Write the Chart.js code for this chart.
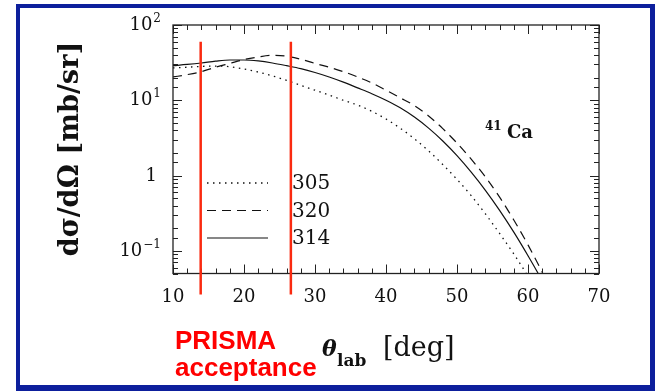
<!DOCTYPE html>
<html>
<head>
<meta charset="utf-8">
<script src="https://cdn.jsdelivr.net/npm/chart.js@4.4.1/dist/chart.umd.min.js"></script>
<style>
  html, body { margin: 0; padding: 0; background: #fff; }
  #wrap { width: 656px; height: 391px; position: relative; }
</style>
</head>
<body>
<div id="wrap"><canvas id="c" width="656" height="391"></canvas></div>
<script>
// Angular distributions d(sigma)/d(Omega) for 41Ca at three beam energies
const theta    = [10, 12, 14, 16, 18, 20, 22, 24, 26, 28, 30, 32, 34, 36, 38, 40, 42, 44, 46, 48, 50, 52, 54, 56, 58, 60, 62, 64];
const sigma305 = [26.9, 27.5, 28.2, 28.5, 27.9, 26, 23.7, 21.1, 18.4, 15.8, 13.6, 11.7, 10, 8.64, 7.14, 5.64, 4.26, 3.08, 2.13, 1.4, 0.89, 0.54, 0.31, 0.17, 0.091, 0.046, 0.022, 0.01];
const sigma320 = [20.4, 21.9, 24, 27.5, 30.9, 34.7, 37.6, 39.5, 38.5, 35.1, 30.9, 27.5, 24, 20.4, 17, 13.6, 10.8, 8.5, 6.2, 4.2, 2.7, 1.65, 0.96, 0.516, 0.257, 0.12, 0.052, 0.021];
const sigma314 = [28.8, 29.9, 31.3, 33.1, 34.3, 34.3, 33.3, 31.3, 28.8, 26.3, 23.4, 20.4, 17.4, 14.6, 12.2, 10, 7.96, 5.99, 4.27, 2.88, 1.84, 1.11, 0.637, 0.345, 0.177, 0.086, 0.04, 0.017];
const seriesLabels = ['305', '320', '314'];

const xMin = 10, xMax = 70, xStep = 10, xMinorStep = 2;
const yMin = 0.05, yMax = 100;
// decade labels: mantissa text and exponent text
const yTickValues = [0.1, 1, 10, 100];
const yTickBase   = ['10', '1', '10', '10'];
const yTickExp    = ['−1', '', '1', '2'];

// PRISMA angular acceptance limits (deg)
const acceptance = [13.9, 26.6];

const SERIF = '"DejaVu Serif", "Liberation Serif", serif';
const INK = '#111';

function toPoints(vals) { return theta.map((t, i) => ({ x: t, y: vals[i] })); }

function decadeIndex(v) {
  for (let i = 0; i < yTickValues.length; i++) {
    if (Math.abs(v / yTickValues[i] - 1) < 1e-6) return i;
  }
  return -1;
}

const decorations = {
  id: 'decorations',
  afterDatasetsDraw(chart) {
    const { ctx, chartArea: a, scales: { x, y } } = chart;
    ctx.save();

    // frame
    ctx.strokeStyle = '#222';
    ctx.lineWidth = 1.3;
    ctx.strokeRect(a.left, a.top, a.right - a.left, a.bottom - a.top);

    // inward ticks on all four sides
    ctx.lineWidth = 1;
    ctx.beginPath();
    for (let v = x.min; v <= x.max + 1e-9; v += xMinorStep) {
      const px = Math.round(x.getPixelForValue(v)) + 0.5;
      const len = Math.abs(((v - x.min) % xStep)) < 1e-9 ? 9 : 5;
      ctx.moveTo(px, a.bottom); ctx.lineTo(px, a.bottom - len);
      ctx.moveTo(px, a.top); ctx.lineTo(px, a.top + len);
    }
    y.ticks.forEach(t => {
      const py = Math.round(y.getPixelForValue(t.value)) + 0.5;
      const len = decadeIndex(t.value) >= 0 ? 9 : 5;
      ctx.moveTo(a.left, py); ctx.lineTo(a.left + len, py);
      ctx.moveTo(a.right, py); ctx.lineTo(a.right - len, py);
    });
    ctx.stroke();

    // decade labels with raised exponents
    ctx.fillStyle = INK;
    ctx.textBaseline = 'alphabetic';
    ctx.textAlign = 'right';
    yTickValues.forEach((v, i) => {
      const py = y.getPixelForValue(v);
      const right = a.left - 12;
      let expW = 0;
      if (yTickExp[i]) {
        ctx.font = '12px ' + SERIF;
        expW = ctx.measureText(yTickExp[i]).width;
        ctx.fillText(yTickExp[i], right, py - 3);
      }
      ctx.font = '18px ' + SERIF;
      ctx.fillText(yTickBase[i], right - expW - (expW ? 1 : 4), py + 5);
    });

    // legend inside the plot
    chart.data.datasets.forEach((ds, i) => {
      const ly = a.top + 158 + i * 27.5;
      ctx.beginPath();
      ctx.strokeStyle = ds.borderColor;
      ctx.lineWidth = ds.borderWidth;
      ctx.setLineDash(ds.borderDash || []);
      ctx.moveTo(a.left + 34, ly); ctx.lineTo(a.left + 95, ly);
      ctx.stroke();
      ctx.setLineDash([]);
      ctx.fillStyle = INK;
      ctx.font = '20px ' + SERIF;
      ctx.textAlign = 'left';
      ctx.textBaseline = 'middle';
      ctx.fillText(ds.label, a.left + 119, ly + 1);
    });

    // nucleus label
    ctx.fillStyle = INK;
    ctx.textAlign = 'left';
    ctx.textBaseline = 'alphabetic';
    ctx.font = 'bold 12px ' + SERIF;
    ctx.fillText('41', 485, 130);
    ctx.font = 'bold 18px ' + SERIF;
    ctx.fillText('Ca', 507, 138);

    // acceptance markers
    ctx.strokeStyle = '#fa2a10';
    ctx.lineWidth = 2.5;
    ctx.beginPath();
    acceptance.forEach(t => {
      const px = x.getPixelForValue(t);
      ctx.moveTo(px, y.getPixelForValue(60));
      ctx.lineTo(px, a.bottom + 21);
    });
    ctx.stroke();

    // y axis title
    ctx.save();
    ctx.translate(71, 149);
    ctx.rotate(-Math.PI / 2);
    ctx.font = 'bold 26px ' + SERIF;
    const w = ctx.measureText('dσ/dΩ [mb/sr]').width;
    const fs = 26 * 215 / w;
    ctx.font = 'bold ' + fs.toFixed(1) + 'px ' + SERIF;
    ctx.textAlign = 'center';
    ctx.textBaseline = 'middle';
    ctx.fillStyle = INK;
    ctx.fillText('dσ/dΩ [mb/sr]', 0, 0);
    ctx.restore();

    // x axis title
    ctx.fillStyle = INK;
    ctx.textAlign = 'left';
    ctx.textBaseline = 'alphabetic';
    ctx.font = 'italic bold 22px ' + SERIF;
    ctx.fillText('θ', 322, 356);
    ctx.font = 'bold 17px ' + SERIF;
    ctx.fillText('lab', 337, 366);
    ctx.font = '27px ' + SERIF;
    ctx.fillText('[deg]', 383, 356);

    // acceptance caption
    ctx.fillStyle = '#ff0000';
    ctx.font = 'bold 26px "Liberation Sans", Arial, sans-serif';
    ctx.fillText('PRISMA', 175, 349);
    ctx.fillText('acceptance', 175, 376);

    ctx.restore();
  },
  afterDraw(chart) {
    // slide frame
    const ctx = chart.ctx;
    ctx.save();
    ctx.fillStyle = '#0d1f9c';
    ctx.fillRect(16, 4, 639, 4);
    ctx.fillRect(16, 385, 639, 6);
    ctx.fillRect(16, 4, 4, 387);
    ctx.fillRect(650, 4, 5, 387);
    ctx.restore();
  }
};

new Chart(document.getElementById('c'), {
  type: 'line',
  data: {
    datasets: [
      { label: seriesLabels[0], data: toPoints(sigma305), borderColor: '#111', borderWidth: 1.3, borderDash: [1.5, 4.5] },
      { label: seriesLabels[1], data: toPoints(sigma320), borderColor: '#111', borderWidth: 1.2, borderDash: [9, 6] },
      { label: seriesLabels[2], data: toPoints(sigma314), borderColor: '#111', borderWidth: 1.2 }
    ]
  },
  options: {
    responsive: false,
    animation: false,
    devicePixelRatio: 1,
    layout: { padding: { left: 0, right: 57, top: 25, bottom: 0 } },
    elements: { point: { radius: 0 }, line: { cubicInterpolationMode: 'monotone', fill: false } },
    plugins: { legend: { display: false }, tooltip: { enabled: false } },
    scales: {
      x: {
        type: 'linear', min: xMin, max: xMax,
        grid: { display: false }, border: { display: false },
        ticks: { stepSize: xStep, font: { family: SERIF, size: 18 }, color: INK, padding: 5 },
        afterFit(s) { s.height = 117.5; }
      },
      y: {
        type: 'logarithmic', min: yMin, max: yMax,
        grid: { display: false }, border: { display: false },
        ticks: { display: false, autoSkip: false },
        afterFit(s) { s.width = 173; }
      }
    }
  },
  plugins: [decorations]
});
</script>
</body>
</html>
